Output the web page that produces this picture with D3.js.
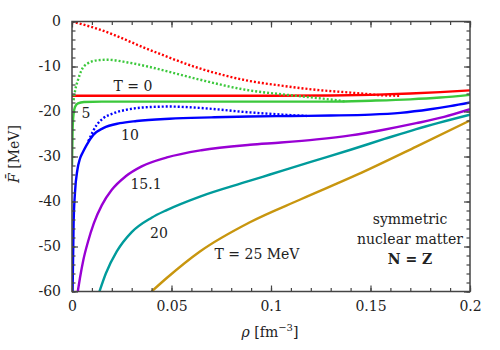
<!DOCTYPE html>
<html><head><meta charset="utf-8">
<script src="https://cdn.jsdelivr.net/npm/d3@7"></script>
<style>
body{margin:0;background:#fff;}
</style></head>
<body><svg id="c" width="500" height="350"></svg>
<script>
// ---- data (rho in fm^-3, F in MeV) ----
const rhoTicks = [0, 0.05, 0.1, 0.15, 0.2];
const rhoTickLabels = ["0", "0.05", "0.1", "0.15", "0.2"];
const fTicks = [0, -10, -20, -30, -40, -50, -60];
const fTickLabels = ["0", "-10", "-20", "-30", "-40", "-50", "-60"];

const solidT0 = [[0,-16.5],[0.05,-16.5],[0.1,-16.5],[0.13,-16.45],[0.15,-16.3],[0.17,-16.0],[0.185,-15.7],[0.2,-15.3]];
const solidT5 = [[0,-32],[0.0003,-24],[0.0008,-20.5],[0.0015,-19],[0.003,-18.2],[0.006,-17.9],[0.015,-17.8],[0.05,-17.8],[0.1,-17.8],[0.13,-17.8],[0.15,-17.6],[0.17,-17.3],[0.185,-16.9],[0.2,-16.3]];
const solidT10 = [[0.0003,-60],[0.0008,-45],[0.0015,-38],[0.0027,-33],[0.004,-30.5],[0.0055,-29],[0.0074,-27.4],[0.0107,-25.2],[0.0157,-23.7],[0.0241,-22.6],[0.0325,-22.1],[0.049,-21.6],[0.07,-21.3],[0.089,-21.1],[0.11,-21.0],[0.13,-20.9],[0.15,-20.7],[0.165,-20.3],[0.18,-19.5],[0.19,-18.8],[0.2,-18.0]];
const solidT151 = [[0.0029,-60],[0.004,-57],[0.0057,-53.0],[0.008,-49.0],[0.011,-44.8],[0.015,-40.8],[0.02,-37.4],[0.027,-34.4],[0.035,-32.2],[0.0477,-30.2],[0.065,-28.6],[0.0894,-27.4],[0.105,-26.9],[0.123,-26.2],[0.14,-25.3],[0.156,-24.1],[0.173,-22.6],[0.187,-21.2],[0.2,-19.5]];
const solidT20 = [[0.0138,-60],[0.017,-56.0],[0.0225,-51.1],[0.03,-46.8],[0.04,-43.6],[0.0476,-41.9],[0.0643,-38.9],[0.0878,-35.6],[0.0995,-34.0],[0.12,-31.2],[0.14,-28.5],[0.157,-26.1],[0.173,-23.9],[0.2,-20.7]];
const solidT25 = [[0.040,-60],[0.0476,-57.0],[0.0643,-51.1],[0.0894,-44.6],[0.115,-39.5],[0.143,-34.1],[0.173,-27.8],[0.2,-22.0]];

const dotT0 = [[0,0],[0.014,-1.8],[0.039,-6.3],[0.064,-10.4],[0.089,-13.2],[0.106,-14.3],[0.123,-15.2],[0.14,-15.8],[0.148,-16.1],[0.156,-16.4],[0.165,-16.5]];
const dotT5 = [[0.0008,-17.5],[0.0015,-15.5],[0.003,-13],[0.0047,-10.9],[0.008,-9.3],[0.013,-8.6],[0.018,-8.5],[0.028,-9.1],[0.038,-10.0],[0.048,-11.1],[0.064,-12.9],[0.089,-15.3],[0.106,-16.2],[0.123,-17.0],[0.131,-17.4],[0.138,-17.8]];
const dotT10 = [[0.0082,-26.6],[0.0124,-23.0],[0.0157,-21.5],[0.0208,-20.4],[0.0275,-19.6],[0.0358,-19.1],[0.0492,-18.9],[0.064,-19.2],[0.0894,-20.2],[0.106,-20.7],[0.118,-21.0]];

const curveNames = ["T = 0", "5", "10", "15.1", "20", "T = 25 MeV"];
const curveColors = ["#ff0000", "#3cc83c", "#0000ff", "#9900d4", "#009b9b", "#c8960f"];

// ---- layout ----
const FONT = "DejaVu Serif";
const svg = d3.select("#c");
const L = 72, R = 470, T = 21.5, B = 291.5;
const x = d3.scaleLinear().domain([0, 0.2]).range([L, R]);
const y = d3.scaleLinear().domain([-60, 0]).range([B, T]);

svg.append("defs").append("clipPath").attr("id","clip")
  .append("rect").attr("x",L).attr("y",T).attr("width",R-L).attr("height",B-T);

const line = d3.line().x(d=>x(d[0])).y(d=>y(d[1])).curve(d3.curveMonotoneX);
const plot = svg.append("g").attr("clip-path","url(#clip)");

const solids = [solidT0, solidT5, solidT10, solidT151, solidT20, solidT25];
const dots = [dotT0, dotT5, dotT10];
for (let i = solids.length-1; i >= 0; i--) {
  plot.append("path").datum(solids[i]).attr("d", line)
    .attr("fill","none").attr("stroke",curveColors[i]).attr("stroke-width",2.4);
}
dots.forEach((d,i)=>{
  plot.append("path").datum(d).attr("d", line)
    .attr("fill","none").attr("stroke",curveColors[i]).attr("stroke-width",2.4)
    .attr("stroke-dasharray","2,2");
});

// ---- axes (ticks inward on all sides) ----
const fs = 14;
const axisColor = "#444";
function styleAx(g){ g.attr("font-family",FONT); g.select(".domain").remove(); g.selectAll("line").attr("stroke",axisColor).attr("stroke-width",1.2); }
const xMinor = d3.range(0, 0.2001, 0.01);
const yMinor = d3.range(-60, 0.001, 2);

svg.append("g").attr("transform",`translate(0,${B})`)
  .call(d3.axisBottom(x).tickValues(xMinor).tickSize(-3.5).tickFormat("")).call(styleAx);
svg.append("g").attr("transform",`translate(0,${B})`)
  .call(d3.axisBottom(x).tickValues(rhoTicks).tickSize(-6).tickFormat((d,i)=>rhoTickLabels[i]).tickPadding(10))
  .call(styleAx).call(g=>g.selectAll("text").attr("font-size",fs).attr("fill","#222"));
svg.append("g").attr("transform",`translate(0,${T})`)
  .call(d3.axisTop(x).tickValues(xMinor).tickSize(-3.5).tickFormat("")).call(styleAx);
svg.append("g").attr("transform",`translate(0,${T})`)
  .call(d3.axisTop(x).tickValues(rhoTicks).tickSize(-6).tickFormat("")).call(styleAx);

svg.append("g").attr("transform",`translate(${L},0)`)
  .call(d3.axisLeft(y).tickValues(yMinor).tickSize(-3.5).tickFormat("")).call(styleAx);
svg.append("g").attr("transform",`translate(${L},0)`)
  .call(d3.axisLeft(y).tickValues(fTicks).tickSize(-6).tickFormat((d,i)=>fTickLabels[i]).tickPadding(11))
  .call(styleAx).call(g=>g.selectAll("text").attr("font-size",fs).attr("fill","#222"));
svg.append("g").attr("transform",`translate(${R},0)`)
  .call(d3.axisRight(y).tickValues(yMinor).tickSize(-3.5).tickFormat("")).call(styleAx);
svg.append("g").attr("transform",`translate(${R},0)`)
  .call(d3.axisRight(y).tickValues(fTicks).tickSize(-6).tickFormat("")).call(styleAx);

svg.append("rect").attr("x",L).attr("y",T).attr("width",R-L).attr("height",B-T)
  .attr("fill","none").attr("stroke",axisColor).attr("stroke-width",1.5);

// ---- axis titles ----
const xt = svg.append("text").attr("x",270).attr("y",337).attr("text-anchor","middle").attr("font-size",fs);
xt.append("tspan").attr("font-style","italic").text("ρ");
xt.append("tspan").text(" [fm");
xt.append("tspan").attr("font-size",10).attr("dy",-6).text("−3");
xt.append("tspan").attr("dy",6).text("]");

const yt = svg.append("text").attr("transform","translate(19,154) rotate(-90)").attr("text-anchor","middle").attr("font-size",fs);
yt.append("tspan").attr("font-style","italic").text("F\u0304");
yt.append("tspan").text(" [MeV]");

// ---- curve labels ----
const labelPos = [[133,91],[86,118],[130,140],[146,189],[159,238],[257,259]];
curveNames.forEach((t,i)=>{
  svg.append("text").attr("x",labelPos[i][0]).attr("y",labelPos[i][1])
    .attr("text-anchor","middle").attr("font-size",fs).text(t);
});
svg.append("text").attr("x",410).attr("y",224).attr("text-anchor","middle").attr("font-size",fs).text("symmetric");
svg.append("text").attr("x",410).attr("y",244).attr("text-anchor","middle").attr("font-size",fs).text("nuclear matter");
svg.append("text").attr("x",410).attr("y",264).attr("text-anchor","middle").attr("font-size",fs).attr("font-weight","bold").text("N = Z");

svg.selectAll("text").attr("font-family", FONT).attr("fill","#222");
</script></body></html>
